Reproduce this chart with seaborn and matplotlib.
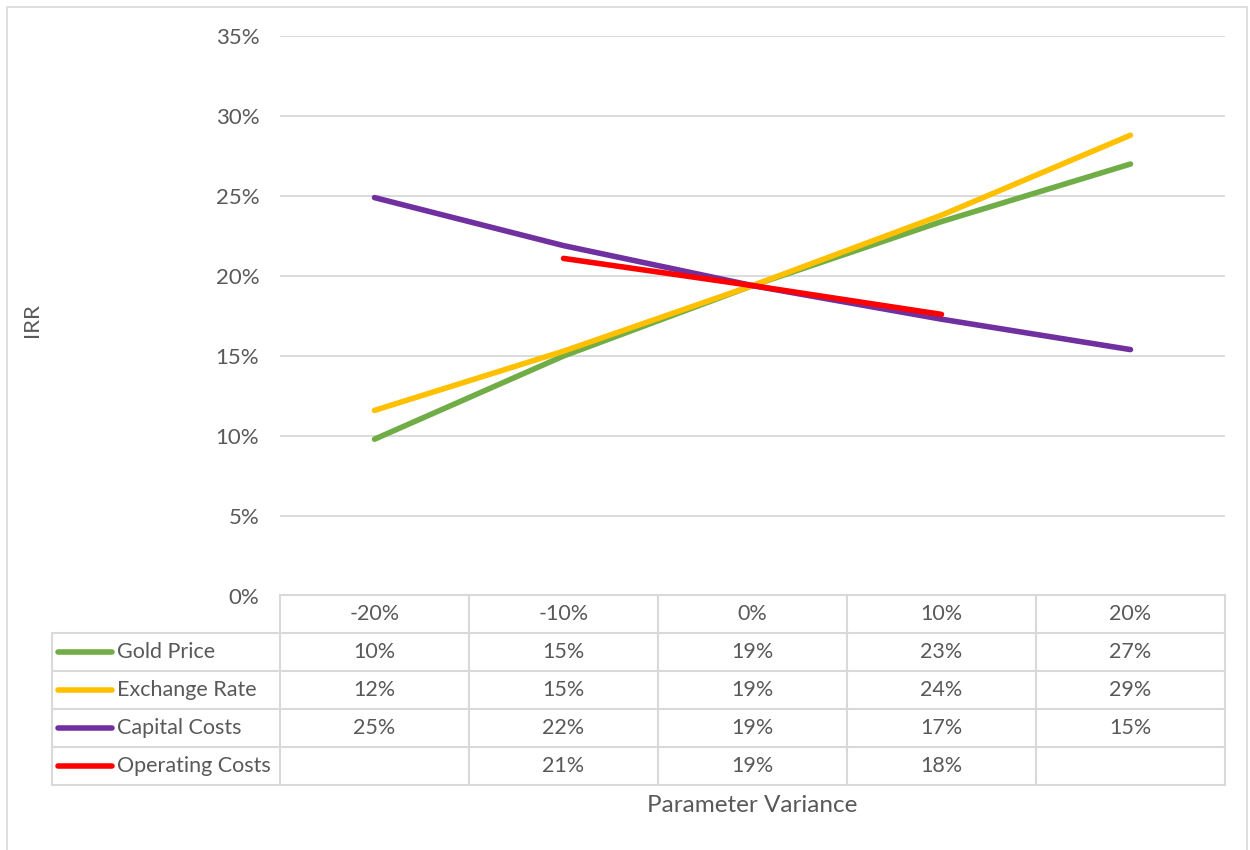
import numpy as np
import pandas as pd
import seaborn as sns
import matplotlib.pyplot as plt
from matplotlib.patches import Rectangle
from matplotlib.ticker import PercentFormatter

# Excel-like palette
gold_green = "#70AD47"
fx_yellow = "#FFC000"
capex_purple = "#7030A0"
opex_red = "#FF0000"
text_grey = "#595959"
grid_grey = "#D9D9D9"

# Data
variances = ["-20%", "-10%", "0%", "10%", "20%"]
series_names = ["Gold Price", "Exchange Rate", "Capital Costs", "Operating Costs"]
gold_price = [0.098, 0.150, 0.194, 0.234, 0.270]
exchange_rate = [0.116, 0.153, 0.194, 0.238, 0.288]
capital_costs = [0.249, 0.219, 0.194, 0.173, 0.154]
operating_costs = [np.nan, 0.211, 0.194, 0.176, np.nan]
colors = [gold_green, fx_yellow, capex_purple, opex_red]

series_values = [gold_price, exchange_rate, capital_costs, operating_costs]
df = pd.DataFrame({
    "pos": list(range(len(variances))) * len(series_names),
    "IRR": sum(series_values, []),
    "Series": [s for s in series_names for _ in variances],
})

sns.set_theme(style="white")
plt.rcParams["font.family"] = ["Lato", "DejaVu Sans"]

W, H = 1250, 850
fig = plt.figure(figsize=(W / 100, H / 100), dpi=100)
fig.patches.append(Rectangle((7 / W, -0.02), 1240 / W, 1.02 - 7 / H, transform=fig.transFigure,
                             fill=False, edgecolor=grid_grey, linewidth=1.2))

# main plot area
ax = fig.add_axes([280 / W, 1 - 596 / H, 945 / W, 560 / H])
sns.lineplot(data=df.dropna(), x="pos", y="IRR", hue="Series", palette=colors,
             linewidth=4, sort=False, legend=False, ax=ax,
             solid_capstyle="round")
ax.set_xlim(-0.5, len(variances) - 0.5)
ax.set_ylim(0, 0.35)
ax.set_yticks(np.arange(0, 0.351, 0.05))
ax.yaxis.set_major_formatter(PercentFormatter(1.0, decimals=0))
ax.set_xticks([])
ax.set_xlabel("")
ax.set_ylabel("")
ax.grid(axis="y", color=grid_grey, linewidth=1.3)
ax.tick_params(axis="y", length=0, pad=15, labelsize=16, labelcolor=text_grey)
for sp in ax.spines.values():
    sp.set_visible(False)

# data table beneath the plot
unit = 945 / len(variances)          # pixels per category
left = -0.5 - 228 / unit             # legend column start
n_rows = len(series_names) + 1
tax = fig.add_axes([52 / W, 1 - 785 / H, 1173 / W, 190 / H])
tax.set_xlim(left, len(variances) - 0.5)
tax.set_ylim(n_rows - 0.5, -0.5)
tax.axis("off")

right = len(variances) - 0.5
tax.plot([-0.5, right], [-0.5, -0.5], color=grid_grey, lw=1.5, clip_on=False)
for r in range(1, n_rows + 1):
    tax.plot([left, right], [r - 0.5, r - 0.5], color=grid_grey, lw=1.5, clip_on=False)
for c in range(len(variances) + 1):
    tax.plot([c - 0.5, c - 0.5], [-0.5, n_rows - 0.5], color=grid_grey, lw=1.5, clip_on=False)
tax.plot([left, left], [0.5, n_rows - 0.5], color=grid_grey, lw=1.5, clip_on=False)

fs = 15.5
for c, lab in enumerate(variances):
    tax.text(c, 0, lab, ha="center", va="center", fontsize=fs, color=text_grey)

for r, (name, vals, col) in enumerate(zip(series_names, series_values, colors), start=1):
    tax.plot([left + 6 / unit, left + 60 / unit], [r, r], color=col, lw=4,
             solid_capstyle="round", clip_on=False)
    tax.text(left + 65 / unit, r, name, ha="left", va="center", fontsize=fs, color=text_grey)
    for c, v in enumerate(vals):
        if not np.isnan(v):
            tax.text(c, r, f"{round(v * 100):.0f}%", ha="center", va="center",
                     fontsize=fs, color=text_grey)

fig.text(32 / W, 1 - 320 / H, "IRR", rotation=90, ha="center", va="center",
         fontsize=16, color=text_grey)
fig.text(752 / W, 1 - 806 / H, "Parameter Variance", ha="center", va="center",
         fontsize=17.5, color=text_grey)

plt.savefig("out.png", dpi=100)
plt.close()
